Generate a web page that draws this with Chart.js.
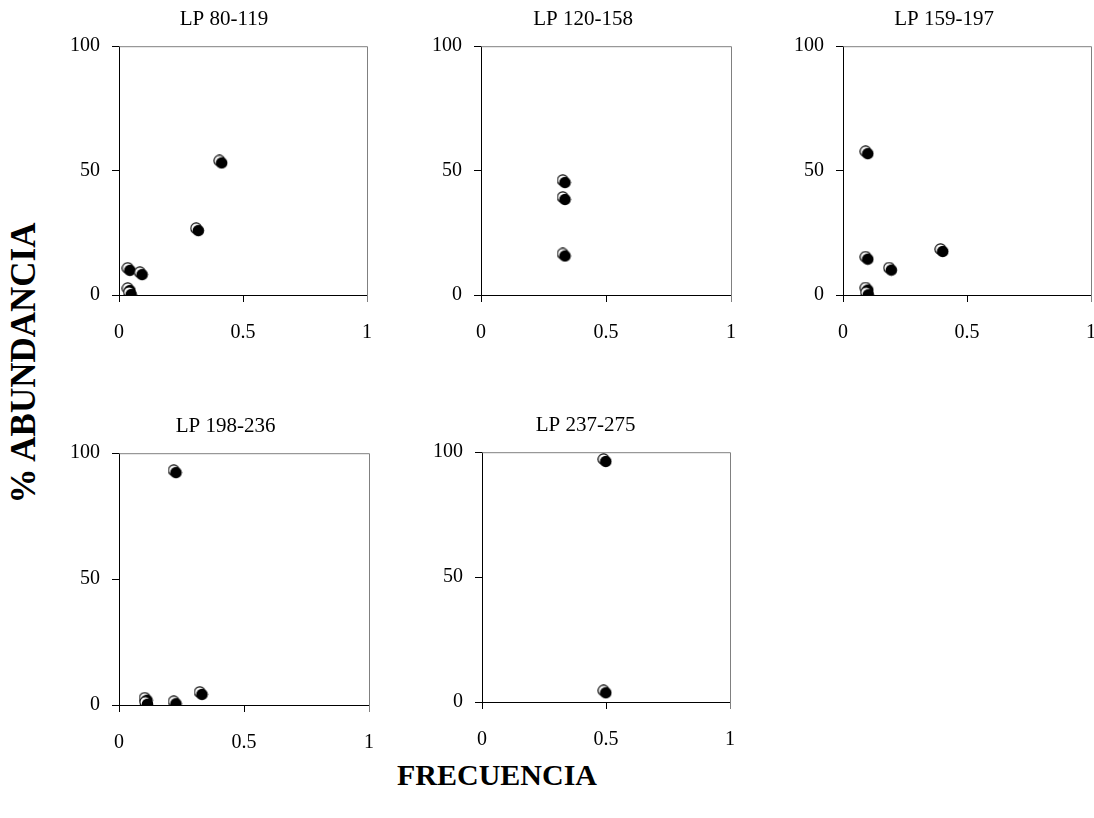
<!DOCTYPE html>
<html lang="es">
<head>
<meta charset="UTF-8">
<title>Frecuencia vs % abundancia</title>
<script src="https://cdn.jsdelivr.net/npm/chart.js"></script>
<style>
  body { margin: 0; width: 1094px; height: 818px; overflow: hidden; position: relative; background: #fff; }
  canvas { position: absolute; }
  .axis-title { position: absolute; font-family: "Liberation Serif", "Times New Roman", serif; font-weight: bold; color: #000; white-space: nowrap; }
  #ytitle { font-size: 35px; left: 24px; top: 363px; transform: translate(-50%, -50%) rotate(-90deg); }
  #xtitle { font-size: 30px; left: 497px; top: 775px; transform: translate(-50%, -50%); }
</style>
</head>
<body>
<div class="axis-title" id="ytitle">% ABUNDANCIA</div>
<div class="axis-title" id="xtitle">FRECUENCIA</div>

<script>
// Datos por clase de longitud (LP)
const titles = ['LP 80-119', 'LP 120-158', 'LP 159-197', 'LP 198-236', 'LP 237-275'];

const freq1  = [0.41, 0.316, 0.04, 0.089, 0.04, 0.045];
const abund1 = [53.5, 26.3, 10.3, 8.6, 2.2, 0.6];

const freq2  = [0.332, 0.332, 0.332];
const abund2 = [45.6, 38.8, 16.1];

const freq3  = [0.096, 0.096, 0.191, 0.398, 0.096, 0.098];
const abund3 = [57.2, 14.8, 10.4, 17.9, 2.4, 0.5];

const freq4  = [0.224, 0.108, 0.11, 0.224, 0.328];
const abund4 = [92.7, 2.3, 0.7, 0.9, 4.6];

const freq5  = [0.495, 0.495];
const abund5 = [96.7, 4.1];

const xTicks = [0, 0.5, 1];
const yTicks = [0, 50, 100];

const series = [
  [freq1, abund1], [freq2, abund2], [freq3, abund3], [freq4, abund4], [freq5, abund5]
];

// Posición de cada panel: área de trazado [izq, arriba, der, abajo] y centro del título
const panels = [
  { plot: [119, 46, 367, 295], titleX: 224 },
  { plot: [481, 46, 731, 295], titleX: 583 },
  { plot: [843, 46, 1091, 295], titleX: 944 },
  { plot: [119, 453, 369, 705], titleX: 225.5 },
  { plot: [482, 452, 730, 702], titleX: 585.5 }
];

const Y_AXIS_W = 50;
const PAD_R = 26;
const TITLE_H = 43.2;
const X_AXIS_H = 50;
const serif = '"Liberation Serif", "Times New Roman", serif';

// Marcador: círculo con borde y disco negro desplazado (sombra)
function makeMarker() {
  const c = document.createElement('canvas');
  c.width = 15; c.height = 15;
  const g = c.getContext('2d');
  g.beginPath();
  g.arc(6.3, 6.3, 5.4, 0, 2 * Math.PI);
  g.fillStyle = '#fff';
  g.fill();
  g.strokeStyle = '#000';
  g.lineWidth = 1.1;
  g.stroke();
  g.beginPath();
  g.arc(8.5, 8.5, 5.8, 0, 2 * Math.PI);
  g.fillStyle = '#000';
  g.fill();
  return c;
}
const marker = makeMarker();

// Borde gris superior y derecho del área de trazado
const frame = {
  id: 'frame',
  beforeDatasetsDraw(chart) {
    const { left, top, right, bottom } = chart.chartArea;
    const ctx = chart.ctx;
    ctx.save();
    ctx.strokeStyle = '#808080';
    ctx.lineWidth = 1;
    ctx.beginPath();
    ctx.moveTo(left, top + 0.5);
    ctx.lineTo(right + 0.5, top + 0.5);
    ctx.lineTo(right + 0.5, bottom + 7);
    ctx.stroke();
    ctx.restore();
  }
};

panels.forEach((p, i) => {
  const [L, T, R, B] = p.plot;
  // el título queda centrado entre el borde izquierdo del eje Y y titleRight;
  // un eje vacío a la derecha ocupa el espacio entre R y titleRight
  const left = L - Y_AXIS_W;
  const titleRight = 2 * p.titleX - left;
  const spacer = Math.max(0, titleRight - R);
  const width = Math.round(R + spacer + PAD_R - left);
  const height = Math.round(TITLE_H + (B - T) + X_AXIS_H);

  const canvas = document.createElement('canvas');
  canvas.width = width;
  canvas.height = height;
  canvas.style.left = left + 'px';
  canvas.style.top = Math.round(T - TITLE_H) + 'px';
  document.body.appendChild(canvas);

  const [fx, ay] = series[i];

  new Chart(canvas, {
    type: 'scatter',
    data: {
      datasets: [{
        data: fx.map((v, k) => ({ x: v, y: ay[k] })),
        pointStyle: marker,
        pointRadius: 7,
        pointHoverRadius: 7
      }]
    },
    options: {
      responsive: false,
      animation: false,
      events: [],
      layout: { padding: { left: 0, right: PAD_R, top: 0, bottom: 0 } },
      plugins: {
        legend: { display: false },
        tooltip: { enabled: false },
        title: {
          display: true,
          text: titles[i],
          color: '#000',
          font: { family: serif, size: 21, weight: 'normal' },
          padding: { top: 4, bottom: 14 }
        }
      },
      scales: {
        x: {
          type: 'linear',
          min: 0, max: 1,
          afterFit: s => { s.height = X_AXIS_H; },
          afterBuildTicks: s => { s.ticks = xTicks.map(v => ({ value: v })); },
          ticks: {
            color: '#000',
            font: { family: serif, size: 20 },
            padding: 19,
            maxRotation: 0,
            callback: v => String(v)
          },
          grid: { drawOnChartArea: false, drawTicks: true, tickLength: 7, color: '#000' },
          border: { display: true, color: '#000', width: 1 }
        },
        y: {
          type: 'linear',
          min: 0, max: 100,
          afterFit: s => { s.width = Y_AXIS_W; },
          afterBuildTicks: s => { s.ticks = yTicks.map(v => ({ value: v })); },
          ticks: {
            color: '#000',
            font: { family: serif, size: 20 },
            padding: 12,
            callback: v => String(v)
          },
          grid: { drawOnChartArea: false, drawTicks: true, tickLength: 7, color: '#000' },
          border: { display: true, color: '#000', width: 1 }
        },
        spacer: {
          type: 'linear',
          position: 'right',
          min: 0, max: 1,
          afterFit: s => { s.width = spacer; },
          ticks: { display: false },
          grid: { display: false },
          border: { display: false }
        }
      }
    },
    plugins: [frame]
  });
});
</script>
</body>
</html>
